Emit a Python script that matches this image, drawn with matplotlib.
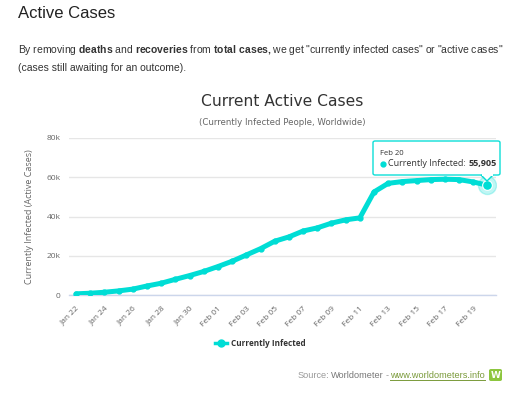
import numpy as np
import matplotlib
matplotlib.use('Agg')
import matplotlib.pyplot as plt
from matplotlib.patches import FancyBboxPatch, Polygon, Rectangle
from matplotlib.lines import Line2D

W, H = 524, 397
dates = ['Jan 22', 'Jan 23', 'Jan 24', 'Jan 25', 'Jan 26', 'Jan 27', 'Jan 28', 'Jan 29',
         'Jan 30', 'Jan 31', 'Feb 01', 'Feb 02', 'Feb 03', 'Feb 04', 'Feb 05', 'Feb 06',
         'Feb 07', 'Feb 08', 'Feb 09', 'Feb 10', 'Feb 11', 'Feb 12', 'Feb 13', 'Feb 14',
         'Feb 15', 'Feb 16', 'Feb 17', 'Feb 18', 'Feb 19', 'Feb 20']
active = [600, 900, 1400, 2100, 3000, 4600, 6000, 8000, 9900, 12000, 14500, 17200,
          20400, 23600, 27400, 29600, 32600, 34200, 36600, 38300, 39300, 52500, 56900,
          57800, 58300, 58800, 59000, 58800, 57600, 55905]
yticks = [0, 20000, 40000, 60000, 80000]
ylabels = ['0', '20k', '40k', '60k', '80k']

CYAN = '#00ddd5'
CF = 'Open Sans'
TF = 'DejaVu Sans'
PF = 'Liberation Sans'
plt.rcParams['mathtext.fontset'] = 'custom'
plt.rcParams['mathtext.rm'] = PF
plt.rcParams['mathtext.bf'] = PF + ':bold'

def fx(x): return x / W
def fy(y): return 1 - y / H

fig = plt.figure(figsize=(W / 100, H / 100), dpi=100)
fig.patch.set_facecolor('white')
ax = fig.add_axes([fx(69), fy(295), fx(496) - fx(69), fy(138) - fy(295)])

x = np.arange(len(dates))
ax.plot(x, active, color=CYAN, lw=3.6, marker='o', ms=3.5, solid_capstyle='round',
        solid_joinstyle='round', zorder=3)
ax.plot(x[-1], active[-1], 'o', ms=13, color=CYAN, alpha=0.25, zorder=4)
ax.plot(x[-1], active[-1], 'o', ms=7, color=CYAN, mec='white', mew=0.8, zorder=5)

ax.set_xlim(-0.5, 29.6)
ax.set_ylim(0, 80000)
ax.set_yticks(yticks)
ax.set_yticklabels(ylabels, fontfamily=CF, fontsize=6, color='#666666')
ax.set_xticks(x[::2])
ax.set_xticklabels(dates[::2], rotation=45, ha='right', va='top', rotation_mode='anchor',
                   fontfamily=CF, fontsize=6, color='#666666')
ax.tick_params(axis='both', length=0)
ax.tick_params(axis='y', pad=6)
ax.tick_params(axis='x', pad=7)
ax.grid(axis='y', color='#e6e6e6', lw=1)
ax.set_axisbelow(True)
for s in ['top', 'right', 'left']:
    ax.spines[s].set_visible(False)
ax.spines['bottom'].set_color('#ccd6eb')
ax.spines['bottom'].set_linewidth(1)
ax.set_ylabel('Currently Infected (Active Cases)', fontfamily=CF, fontsize=6.5,
              color='#666666', labelpad=9)

# header and paragraph
fig.text(fx(18), fy(14), 'Active Cases', fontfamily=PF, fontsize=12, color='#222222',
         va='center', ha='left')
fig.text(fx(18), fy(53), r'By removing $\mathbf{deaths}$ and $\mathbf{recoveries}$ from '
         r'$\mathbf{total\ cases,}$we get "currently infected cases" or "active cases"',
         fontfamily=PF, fontsize=7.45, color='#333333', va='baseline', ha='left')
fig.text(fx(18), fy(71), '(cases still awaiting for an outcome).',
         fontfamily=PF, fontsize=7.45, color='#333333', va='baseline', ha='left')

renderer = fig.canvas.get_renderer()

def runs(x0, y0, parts, size, family, z=12):
    xx = x0
    for txt, weight, color in parts:
        t = fig.text(fx(xx), fy(y0), txt, fontfamily=family, fontsize=size, fontweight=weight,
                     color=color, va='baseline', ha='left', zorder=z)
        xx += t.get_window_extent(renderer).width
    return xx

# chart titles
fig.text(fx(282), fy(101), 'Current Active Cases', fontfamily=TF, fontsize=11.2,
         color='#333333', ha='center', va='center')
fig.text(fx(282), fy(122), '(Currently Infected People, Worldwide)', fontfamily=TF,
         fontsize=6.2, color='#666666', ha='center', va='center')

# legend
fig.lines.append(Line2D([fx(215), fx(227)], [fy(343), fy(343)], color=CYAN, lw=2.5,
                        transform=fig.transFigure))
fig.lines.append(Line2D([fx(221)], [fy(343)], color=CYAN, marker='o', ms=5,
                        transform=fig.transFigure))
fig.text(fx(231), fy(343), 'Currently Infected', fontfamily=CF, fontsize=5.9,
         fontweight='bold', color='#333333', va='center', ha='left')

# tooltip
tip = FancyBboxPatch((fx(373), fy(175)), fx(500) - fx(373), fy(141) - fy(175),
                     boxstyle='round,pad=0,rounding_size=0.004', transform=fig.transFigure,
                     fc='white', ec=CYAN, lw=1, alpha=0.95, zorder=10)
fig.patches.append(tip)
fig.patches.append(Polygon([[fx(481), fy(175)], [fx(487), fy(181)], [fx(493), fy(175)]],
                           closed=False, fc='white', ec=CYAN, lw=1,
                           transform=fig.transFigure, zorder=10))
fig.patches.append(Rectangle((fx(481.5), fy(175.8)), fx(11), fy(174) - fy(175.8),
                             fc='white', ec='none', transform=fig.transFigure, zorder=11))
fig.text(fx(380), fy(153), 'Feb 20', fontfamily=CF, fontsize=5.5, color='#333333',
         va='center', ha='left', zorder=12)
fig.lines.append(Line2D([fx(383)], [fy(163.5)], color=CYAN, marker='o', ms=3.5,
                        transform=fig.transFigure, zorder=12))
xe = runs(388, 166.5, [('Currently Infected: ', 'normal', '#333333')], 6.5, CF)
runs(xe, 166.5, [('55,905', 'bold', '#333333')], 6.5, CF)

# source line, laid out right to left
link = fig.text(fx(485), fy(378), 'www.worldometers.info', fontfamily=PF, fontsize=6.6,
                color='#7a9a3a', va='baseline', ha='right')
lw_ = link.get_window_extent(renderer).width
fig.lines.append(Line2D([fx(485 - lw_), fx(485)], [fy(379.5), fy(379.5)], color='#7a9a3a',
                        lw=0.7, transform=fig.transFigure))
xr = 485 - lw_ - 2
for txt, col in [('-', '#999999'), ('Worldometer', '#777777'), ('Source:', '#999999')]:
    t = fig.text(fx(xr), fy(378), txt, fontfamily=PF, fontsize=6.6, color=col,
                 va='baseline', ha='right')
    xr -= t.get_window_extent(renderer).width + 1.5
fig.patches.append(FancyBboxPatch((fx(489), fy(381)), fx(13), fy(369) - fy(381),
                                  boxstyle='round,pad=0,rounding_size=0.004',
                                  transform=fig.transFigure, fc='#8dc63f', ec='none'))
fig.text(fx(495.5), fy(375), 'W', fontfamily='DejaVu Sans', fontsize=6.5, fontweight='bold',
         color='white', ha='center', va='center')

fig.savefig('out.png', dpi=100)
